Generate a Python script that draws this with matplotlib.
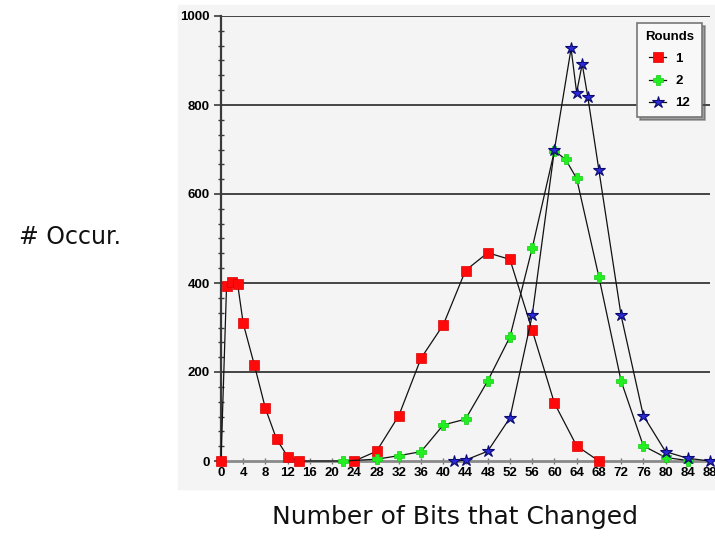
import matplotlib
matplotlib.use("Agg")
import matplotlib.pyplot as plt
from matplotlib.patches import Rectangle
from matplotlib.ticker import AutoMinorLocator

# bit-change counts for each number of rounds
r1_bits = [0, 1, 2, 3, 4, 6, 8, 10, 12, 14, 24, 28, 32, 36, 40, 44, 48, 52, 56, 60, 64, 68]
r1_count = [0, 393, 403, 397, 309, 216, 118, 49, 10, 0, 0, 22, 102, 231, 306, 428, 468, 453, 294, 130, 34, 0]

r2_bits = [22, 28, 32, 36, 40, 44, 48, 52, 56, 60, 62, 64, 68, 72, 76, 80, 84]
r2_count = [0, 4, 12, 21, 81, 94, 180, 279, 478, 697, 678, 635, 414, 180, 34, 8, 1]

r12_bits = [42, 44, 48, 52, 56, 60, 63, 64, 65, 66, 68, 72, 76, 80, 84, 88]
r12_count = [0, 2, 22, 97, 327, 699, 927, 828, 892, 819, 654, 327, 102, 21, 6, 0]

x_ticks = list(range(0, 89, 4))
y_ticks = [0, 200, 400, 600, 800, 1000]

W, H = 715, 538
fig = plt.figure(figsize=(W / 100, H / 100), dpi=100)
fig.patch.set_facecolor("white")

# light grey panel behind the plot
panel = Rectangle((178 / W, 1 - 489 / H), (W - 178) / W, (489 - 5) / H,
                  transform=fig.transFigure, color="#f4f4f4", zorder=-5)
fig.patches.append(panel)

ax = fig.add_axes([221 / W, 1 - 461 / H, (710 - 221) / W, (461 - 16) / H])
ax.set_zorder(2)
ax.set_facecolor("#f4f4f4")

line_kw = dict(color="#111111", lw=0.9, clip_on=False)
ax.plot(r1_bits, r1_count, marker="s", ms=7, mfc="#ff0a0a", mec="#dd0000", mew=0.5,
        label="1", zorder=4, **line_kw)
ax.plot(r2_bits, r2_count, marker="P", ms=6.5, mfc="#22ee22", mec="#11cc11", mew=0.5,
        label="2", zorder=5, **line_kw)
ax.plot(r12_bits, r12_count, marker="*", ms=9, mfc="#2a2ad8", mec="#0a0a70", mew=0.8,
        label="12", zorder=6, **line_kw)

ax.set_xlim(0, 88)
ax.set_ylim(0, 1000)
ax.set_xticks(x_ticks)
ax.set_yticks(y_ticks)
ax.yaxis.set_minor_locator(AutoMinorLocator(6))

# horizontal grid lines
for yv in y_ticks[1:]:
    ax.axhline(yv, color="#444444", lw=1.4, zorder=1)

for side in ["top", "right"]:
    ax.spines[side].set_visible(False)
ax.spines["left"].set_color("#3a3a3a")
ax.spines["left"].set_linewidth(1.6)
ax.spines["bottom"].set_color("#8a8a8a")
ax.spines["bottom"].set_linewidth(2.0)

tick_font = dict(family="Liberation Sans", weight="bold", size=9.5)
ax.tick_params(axis="y", which="major", direction="out", length=5, width=1.2, color="#3a3a3a", pad=3)
ax.tick_params(axis="y", which="minor", direction="inout", length=4, width=1.0, color="#3a3a3a")
ax.tick_params(axis="x", which="major", direction="inout", length=5, width=1.0, color="#777777", pad=2)
for lab in ax.get_xticklabels() + ax.get_yticklabels():
    lab.set_fontproperties(tick_font)

leg = ax.legend(title="Rounds", loc="upper right", bbox_to_anchor=(702 / W, 1 - 23 / H),
                bbox_transform=fig.transFigure, borderaxespad=0, fancybox=False, shadow=True,
                edgecolor="#777777", facecolor="#f8f8f8", framealpha=1,
                handlelength=1.3, handletextpad=0.7, borderpad=0.6, labelspacing=0.75,
                prop=dict(family="Liberation Sans", weight="bold", size=9.5))
leg.get_title().set_fontproperties(dict(family="Liberation Sans", weight="bold", size=9.5))
leg.get_frame().set_linewidth(1.2)

fig.text(121 / W, 1 - 237 / H, "# Occur.", ha="right", va="center", fontsize=17, color="#111111")
fig.text(455 / W, 1 - 517 / H, "Number of Bits that Changed", ha="center", va="center",
         fontsize=18, color="#111111")

fig.savefig("out.png", dpi=100)
